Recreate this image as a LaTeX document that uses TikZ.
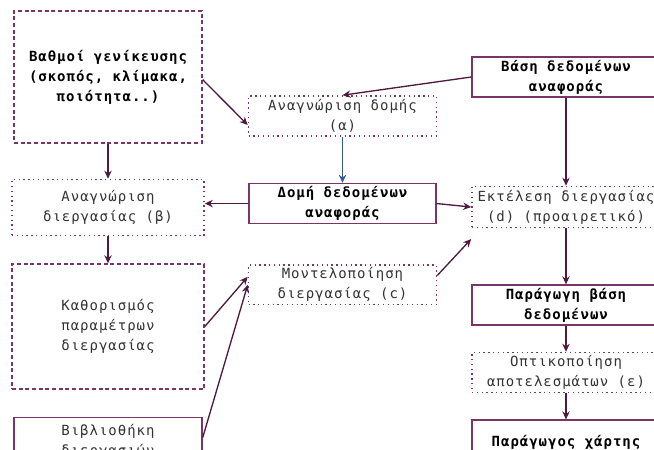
\documentclass[tikz,border=0pt]{standalone}
\usepackage{fontspec}
\setmonofont{DejaVu Sans Mono}[LetterSpace=7]
\usetikzlibrary{arrows.meta,positioning}
\definecolor{boxline}{HTML}{7A3466}
\definecolor{arrline}{HTML}{4E1B3E}
\definecolor{bluearr}{HTML}{2F5C8C}
\definecolor{txt}{HTML}{333333}

\begin{document}
\begin{tikzpicture}[x=0.75pt, y=-0.75pt, font=\ttfamily\fontsize{10.5}{15}\selectfont, text=txt,
  node distance=20pt and 30pt,
  box/.style={draw=boxline, line width=1.1pt, align=center, inner sep=2pt, minimum width=141pt, minimum height=30pt},
  dsh/.style={box, dash pattern=on 3pt off 2pt},
  dot/.style={box, dash pattern=on 1pt off 2.6pt, line width=1.2pt},
  sol/.style={box},
  bf/.style={font=\ttfamily\bfseries\fontsize{10.5}{15}\selectfont, text=black},
  link/.style={->, draw=arrline, line width=1pt},
  >={Stealth[length=6pt,width=5.5pt]}]
\useasboundingbox (0,0) rectangle (654,450);
% left column
\node[dsh, bf, minimum height=99pt] (gen) at (108,77) {Βαθμοί γενίκευσης\\(σκοπός, κλίμακα,\\ποιότητα..)};
\node[dot, minimum width=144pt, minimum height=42pt, below=26.25pt of gen] (beta) {Αναγνώριση\\διεργασίας (β)};
\node[dsh, minimum width=144pt, minimum height=93.75pt, below=20.25pt of beta] (param) {Καθορισμός\\παραμέτρων\\διεργασίας};
\node[sol, minimum height=36pt, below=20.25pt of param] (lib) {Βιβλιοθήκη\\διεργασιών};
% middle column
\node[dot] (alpha) at (342.5,116) {Αναγνώριση δομής\\(α)};
\node[sol, bf, minimum width=140pt, below=34.5pt of alpha] (dom) {Δομή δεδομένων\\αναφοράς};
\node[dot, minimum height=29pt, below=30pt of dom] (model) {Μοντελοποίηση\\διεργασίας (c)};
% right column
\node[sol, bf] (base) at (566,77) {Βάση δεδομένων\\αναφοράς};
\node[dot, minimum height=30.75pt, below=66pt of base] (exec) {Εκτέλεση διεργασίας\\(d) (προαιρετικό)};
\node[sol, bf, below=42pt of exec] (deriv) {Παράγωγη βάση\\δεδομένων};
\node[dot, below=19.5pt of deriv] (vis) {Οπτικοποίηση\\αποτελεσμάτων (ε)};
\node[sol, bf, minimum height=33pt, below=19.5pt of vis] (map) {Παράγωγος χάρτης};
% connectors
\draw[link] (gen) -- (beta);
\draw[link] (beta) -- (param);
\draw[link] ([yshift=-2pt]gen.east) -- ([yshift=-6.75pt]alpha.west);
\draw[link] (base.west) -- (alpha.north);
\draw[link, color=bluearr] (alpha) -- (dom);
\draw[link] (dom.west) -- (dom.west -| beta.east);
\draw[link] (dom.east) -- (exec.west);
\draw[link] (base) -- (exec);
\draw[link] ([yshift=7pt]model.east) -- ([yshift=-8pt]exec.south west);
\draw[link] (param.east) -- ([yshift=6pt]model.west);
\draw[link] ([yshift=3pt]lib.east) -- (model.west);
\draw[link] (exec) -- (deriv);
\draw[link] (deriv) -- (vis);
\draw[link] (vis) -- (map);
\end{tikzpicture}
\end{document}
